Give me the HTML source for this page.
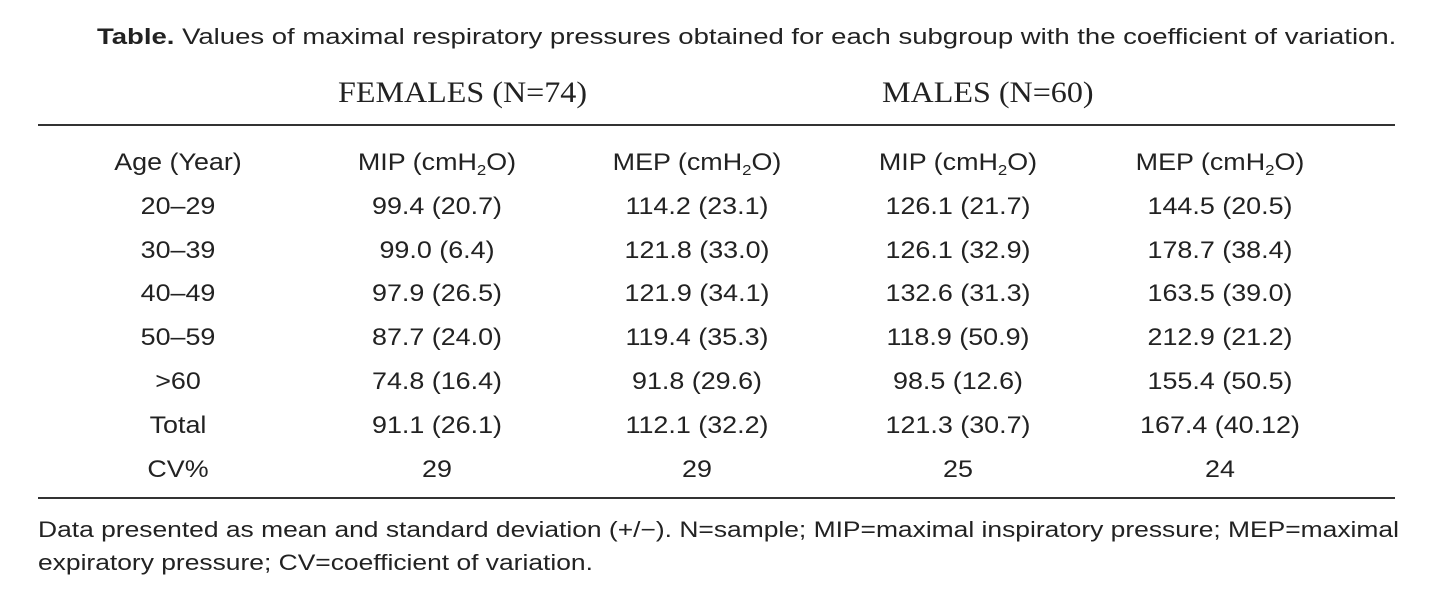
<!DOCTYPE html>
<html><head><meta charset="utf-8"><style>
body{margin:0;width:1434px;height:598px;background:#fff;font-family:"Liberation Sans",sans-serif;color:#222;position:relative;overflow:hidden}
.t{position:absolute;white-space:nowrap;transform-origin:0 0}
.c{position:absolute;transform:translateX(-50%) scaleX(1.12);white-space:nowrap;font-size:24px;line-height:24px}
.hr{position:absolute;left:38px;width:1357px;height:1.5px;background:#333}
.s{font-size:15px;vertical-align:-5px}
</style></head><body>
<div class="t" style="left:97px;top:24px;font-size:22px;transform:scaleX(1.25)"><b>Table.</b> Values of maximal respiratory pressures obtained for each subgroup with the coefficient of variation.</div>
<div class="t" style="left:338px;top:76px;font-size:30px;font-family:'Liberation Serif',serif;transform:scaleX(1.07)">FEMALES (N=74)</div>
<div class="t" style="left:882px;top:76px;font-size:30px;font-family:'Liberation Serif',serif;transform:scaleX(1.07)">MALES (N=60)</div>
<div class="hr" style="top:124px"></div>
<div class="hr" style="top:497px"></div>
<div id="rows"></div>
<div class="t" style="left:38px;top:513px;font-size:22px;line-height:33px;transform:scaleX(1.2)">Data presented as mean and standard deviation (+/−). N=sample; MIP=maximal inspiratory pressure; MEP=maximal<br>expiratory pressure; CV=coefficient of variation.</div>
<script>
var d=[["Age (Year)","MIP (cmH<span class=s>2</span>O)","MEP (cmH<span class=s>2</span>O)","MIP (cmH<span class=s>2</span>O)","MEP (cmH<span class=s>2</span>O)"],
["20–29","99.4 (20.7)","114.2 (23.1)","126.1 (21.7)","144.5 (20.5)"],
["30–39","99.0 (6.4)","121.8 (33.0)","126.1 (32.9)","178.7 (38.4)"],
["40–49","97.9 (26.5)","121.9 (34.1)","132.6 (31.3)","163.5 (39.0)"],
["50–59","87.7 (24.0)","119.4 (35.3)","118.9 (50.9)","212.9 (21.2)"],
[">60","74.8 (16.4)","91.8 (29.6)","98.5 (12.6)","155.4 (50.5)"],
["Total","91.1 (26.1)","112.1 (32.2)","121.3 (30.7)","167.4 (40.12)"],
["CV%","29","29","25","24"]];
var xs=[178,437,697,958,1220],h="";
d.forEach(function(r,i){r.forEach(function(v,j){h+='<div class="c" style="left:'+xs[j]+'px;top:'+(151+i*43.8)+'px">'+v+'</div>'})});
document.getElementById("rows").innerHTML=h;
</script>
</body></html>
